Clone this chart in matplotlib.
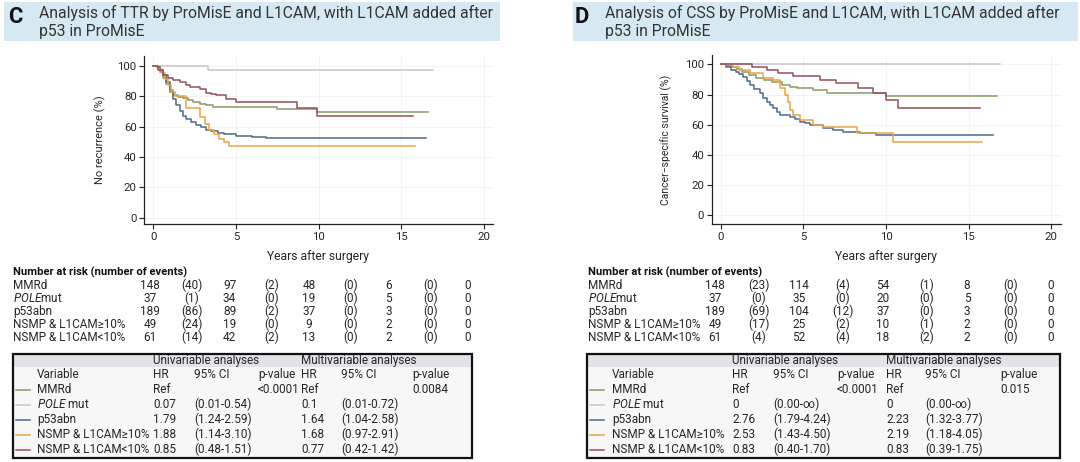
import matplotlib
matplotlib.use('Agg')
import matplotlib.pyplot as plt
from matplotlib.patches import Rectangle

plt.rcParams['font.family'] = ['Roboto', 'DejaVu Sans']
plt.rcParams['mathtext.fontset'] = 'custom'
plt.rcParams['mathtext.rm'] = 'Roboto'
plt.rcParams['mathtext.it'] = 'Roboto:italic'

# ---------------- data ----------------
groups = ['MMRd', r'$\mathit{POLE}$mut', 'p53abn', 'NSMP & L1CAM≥10%', 'NSMP & L1CAM<10%']
colors = ['#8a9865', '#c8c6cc', '#4d6a88', '#e8a448', '#93505f']

# Panel C: time to recurrence (KM steps)
ttr_mmrd_t = [0, 0.2, 0.4, 0.6, 0.8, 1.0, 1.2, 1.5, 1.8, 2.1, 2.4, 2.8, 3.2, 3.6, 7.5, 9.9]
ttr_mmrd_s = [100, 99, 96, 92, 88, 84, 81, 79.5, 78.5, 77.5, 76.3, 75, 74, 72.8, 71.5, 69.7]
ttr_pole_t = [0, 3.3]
ttr_pole_s = [100, 97.1]
ttr_p53_t = [0, 0.2, 0.4, 0.6, 0.8, 1.0, 1.2, 1.4, 1.6, 1.8, 2.0, 2.3, 2.6, 2.9, 3.2, 3.5, 3.9, 4.3, 5.0, 5.5, 6.0, 6.8]
ttr_p53_s = [100, 99, 97, 94, 89, 83, 78, 74, 70, 67, 65, 63, 61, 59.5, 58, 56.8, 55.8, 55, 54, 53.5, 53, 52.2]
ttr_hi_t = [0, 0.3, 0.5, 0.7, 0.9, 1.1, 1.3, 2.0, 2.8, 3.1, 3.4, 3.7, 4.0, 4.3, 4.6]
ttr_hi_s = [100, 98, 95, 91, 87, 83, 80, 72, 66, 62, 58, 55, 52, 50, 47]
ttr_lo_t = [0, 0.3, 0.6, 0.9, 1.2, 1.6, 2.0, 2.2, 2.8, 3.2, 3.5, 3.8, 4.4, 5.0, 8.7, 9.9]
ttr_lo_s = [100, 97, 94, 92, 90.6, 89.5, 87.5, 86.2, 85, 82, 81.5, 80.5, 78, 76.3, 72, 67]
ttr_end = [16.6, 16.9, 16.5, 15.8, 15.7]

# Panel D: cancer-specific survival (KM steps)
css_mmrd_t = [0, 0.4, 0.7, 1.0, 1.3, 1.7, 2.1, 2.6, 3.1, 3.7, 4.2, 4.6, 5.6, 6.4, 10.0]
css_mmrd_s = [100, 99.2, 98.4, 97, 95.1, 93, 90.7, 89.6, 88.5, 86.3, 85, 84.1, 83, 80.8, 79.2]
css_pole_t = [0]
css_pole_s = [100]
css_p53_t = [0, 0.3, 0.6, 0.9, 1.1, 1.35, 1.55, 1.76, 2.0, 2.36, 2.55, 2.77, 3.0, 3.17, 3.4, 3.58, 4.18, 4.5, 4.79, 5.1, 5.39, 6.2, 6.8, 7.4, 8.4, 9.4]
css_p53_s = [100, 98.4, 96.5, 95.1, 93.5, 91.8, 89, 86.3, 83.5, 80.8, 78, 75.2, 73, 70.9, 68.5, 66.4, 65.3, 63.5, 62, 61, 59.8, 57.6, 56.5, 55.4, 54.3, 53.2]
css_hi_t = [0, 0.72, 1.1, 1.76, 2.57, 3.15, 3.56, 3.86, 4.06, 4.2, 4.36, 4.8, 5.6, 6.2, 8.24, 10.4]
css_hi_s = [100, 98.4, 96.2, 94, 90.7, 89.6, 84.1, 79.7, 75, 70, 66.4, 63.1, 59.8, 58.7, 54.3, 48.7]
css_lo_t = [0, 1.86, 2.77, 3.48, 4.39, 6.0, 7.0, 8.3, 9.2, 10.0, 10.7]
css_lo_s = [100, 98.5, 96.2, 94, 92.5, 89.6, 87.4, 84.1, 80.8, 76.4, 70.9]
css_end = [16.7, 16.9, 16.5, 15.8, 15.7]

# Number at risk / events
risk_C = [[148, 97, 48, 6, 0], [37, 34, 19, 5, 0], [189, 89, 37, 3, 0], [49, 19, 9, 2, 0], [61, 42, 13, 2, 0]]
events_C = [[40, 2, 0, 0], [1, 0, 0, 0], [86, 2, 0, 0], [24, 0, 0, 0], [14, 2, 0, 0]]
risk_D = [[148, 114, 54, 8, 0], [37, 35, 20, 5, 0], [189, 104, 37, 3, 0], [49, 25, 10, 2, 0], [61, 52, 18, 2, 0]]
events_D = [[23, 4, 1, 0], [0, 0, 0, 0], [69, 12, 0, 0], [17, 2, 1, 0], [4, 4, 2, 0]]

# Hazard ratio tables
uni_hr_C = ['Ref', '0.07', '1.79', '1.88', '0.85']
uni_ci_C = ['', '(0.01-0.54)', '(1.24-2.59)', '(1.14-3.10)', '(0.48-1.51)']
uni_p_C = ['<0.0001', '', '', '', '']
mul_hr_C = ['Ref', '0.1', '1.64', '1.68', '0.77']
mul_ci_C = ['', '(0.01-0.72)', '(1.04-2.58)', '(0.97-2.91)', '(0.42-1.42)']
mul_p_C = ['0.0084', '', '', '', '']
uni_hr_D = ['Ref', '0', '2.76', '2.53', '0.83']
uni_ci_D = ['', '(0.00-∞)', '(1.79-4.24)', '(1.43-4.50)', '(0.40-1.70)']
uni_p_D = ['<0.0001', '', '', '', '']
mul_hr_D = ['Ref', '0', '2.23', '2.19', '0.83']
mul_ci_D = ['', '(0.00-∞)', '(1.32-3.77)', '(1.18-4.05)', '(0.39-1.75)']
mul_p_D = ['0.015', '', '', '', '']

title_C1 = 'Analysis of TTR by ProMisE and L1CAM, with L1CAM added after'
title_D1 = 'Analysis of CSS by ProMisE and L1CAM, with L1CAM added after'
title_2 = 'p53 in ProMisE'

# ---------------- figure ----------------
W, H = 1080, 462
fig = plt.figure(figsize=(W / 100, H / 100), dpi=100)
ov = fig.add_axes([0, 0, 1, 1])
ov.set_xlim(0, W)
ov.set_ylim(H, 0)
ov.axis('off')
fig.canvas.draw()
R = fig.canvas.get_renderer()


def fit_size(s, target_px, **kw):
    t = ov.text(0, 0, s, fontsize=10, **kw)
    w = t.get_window_extent(renderer=R).width
    t.remove()
    return 10 * target_px / w


TXT = '#262626'
FS_TAB = fit_size('NSMP & L1CAM≥10%', 112)
FS_RISK = fit_size('NSMP & L1CAM≥10%', 112)
FS_RHDR = fit_size('Number at risk (number of events)', 174, fontweight='bold')
FS_TITLE = fit_size(title_C1, 454)
FS_XLAB = fit_size('Years after surgery', 102)
FS_YLAB_C = fit_size('No recurrence (%)', 89)
FS_YLAB_D = fit_size('Cancer−specific survival (%)', 130)
FS_TICK = 8.2
FS_LETTER = fit_size('C', 14.5, fontweight='bold')


def km_axes(l, r, t, b, xlim, ylim, ylab, ylab_x, xlab_x, curves, ylab_fs):
    ax = fig.add_axes([l / W, 1 - b / H, (r - l) / W, (b - t) / H])
    ax.patch.set_alpha(0)
    for (tt, ss, end), c in zip(curves, colors):
        ax.step(list(tt) + [end], list(ss) + [ss[-1]], where='post', color=c, lw=1.1)
    ax.set_xlim(*xlim)
    ax.set_ylim(*ylim)
    ax.set_xticks([0, 5, 10, 15, 20])
    ax.set_yticks([0, 20, 40, 60, 80, 100])
    for s in ['top', 'right']:
        ax.spines[s].set_visible(False)
    for s in ['left', 'bottom']:
        ax.spines[s].set_color('#222222')
        ax.spines[s].set_linewidth(0.9)
    ax.tick_params(length=3.5, width=0.8, pad=2, labelsize=FS_TICK, colors='#222222', labelcolor=TXT)
    ax.grid(True, color='#f1f1f1', lw=0.6)
    ax.set_axisbelow(True)
    ov.text(ylab_x, 140, ylab, rotation=90, ha='center', va='center', fontsize=ylab_fs, color=TXT)
    ov.text(xlab_x, 256.5, 'Years after surgery', ha='center', va='center', fontsize=FS_XLAB, color=TXT)
    return ax


def title_band(x0, x1, letter, lx, tx, line1):
    ov.add_patch(Rectangle((x0, 2), x1 - x0, 38.5, facecolor='#d6e9f2', edgecolor='none'))
    ov.text(lx, 17, letter, fontsize=FS_LETTER, fontweight='bold', ha='left', va='center', color='#111111')
    ov.text(tx, 12.7, line1, fontsize=FS_TITLE, ha='left', va='center', color='#333333')
    ov.text(tx, 31.7, title_2, fontsize=FS_TITLE, ha='left', va='center', color='#333333')


def risk_table(lx, x0, dx, risk, events):
    ov.text(lx, 272.5, 'Number at risk (number of events)', fontsize=FS_RHDR, fontweight='bold',
            ha='left', va='center', color='#111111')
    for i, g in enumerate(groups):
        y = 285.5 + 13 * i
        ov.text(lx, y, g, fontsize=FS_RISK, ha='left', va='center', color=TXT)
        for k, v in enumerate(risk[i]):
            ov.text(x0 + dx * k, y, str(v), fontsize=FS_RISK, ha='center', va='center', color=TXT)
        for k, v in enumerate(events[i]):
            ov.text(x0 + dx * (k + 0.5) + 2, y, '(%d)' % v, fontsize=FS_RISK, ha='center', va='center', color=TXT)


def hr_table(bx0, bx1, cols, uh, uc, up, mh, mc, mp):
    top, bot = 354, 458
    ov.add_patch(Rectangle((bx0, top), bx1 - bx0, bot - top, facecolor='#f7f7f7', edgecolor='none'))
    ov.add_patch(Rectangle((bx0, top), bx1 - bx0, 13, facecolor='#e2e2e9', edgecolor='none'))
    ov.add_patch(Rectangle((bx0, top), bx1 - bx0, bot - top, facecolor='none', edgecolor='#111111', lw=1.6))
    cv, c1, c2, c3, c4, c5, c6 = cols
    ov.text(c1, 360.5, 'Univariable analyses', fontsize=FS_TAB, ha='left', va='center', color=TXT)
    ov.text(c4, 360.5, 'Multivariable analyses', fontsize=FS_TAB, ha='left', va='center', color=TXT)
    hdr = ['Variable', 'HR', '95% CI', 'p-value', 'HR', '95% CI', 'p-value']
    for x, h in zip(cols, hdr):
        ov.text(x, 374.5, h, fontsize=FS_TAB, ha='left', va='center', color=TXT)
    for i, g in enumerate(groups):
        y = 389.5 + 15 * i
        ov.plot([bx0 + 2.5, bx0 + 17], [y, y], color=colors[i], lw=1.1)
        ov.text(cv, y, g.replace('$mut', '$ mut'), fontsize=FS_TAB, ha='left', va='center', color=TXT)
        for x, v in zip(cols[1:], [uh[i], uc[i], up[i], mh[i], mc[i], mp[i]]):
            if v:
                ov.text(x, y, v, fontsize=FS_TAB, ha='left', va='center', color=TXT)


# Panel C
title_band(4, 500, 'C', 8, 39, title_C1)
km_axes(144.3, 493, 56, 224.3, (-0.54, 20.54), (-4.3, 106.4), 'No recurrence (%)', 100, 318,
        [(ttr_mmrd_t, ttr_mmrd_s, ttr_end[0]), (ttr_pole_t, ttr_pole_s, ttr_end[1]),
         (ttr_p53_t, ttr_p53_s, ttr_end[2]), (ttr_hi_t, ttr_hi_s, ttr_end[3]),
         (ttr_lo_t, ttr_lo_s, ttr_end[4])], FS_YLAB_C)
risk_table(13, 150, 79.5, risk_C, events_C)
hr_table(13, 472, [37, 153, 194, 258, 301, 341, 412],
         uni_hr_C, uni_ci_C, uni_p_C, mul_hr_C, mul_ci_C, mul_p_C)

# Panel D
title_band(573, 1078, 'D', 575, 605, title_D1)
km_axes(711.7, 1061, 55, 224.3, (-0.56, 20.6), (-5.96, 106.2), 'Cancer−specific survival (%)', 666, 886,
        [(css_mmrd_t, css_mmrd_s, css_end[0]), (css_pole_t, css_pole_s, css_end[1]),
         (css_p53_t, css_p53_s, css_end[2]), (css_hi_t, css_hi_s, css_end[3]),
         (css_lo_t, css_lo_s, css_end[4])], FS_YLAB_D)
risk_table(588, 715, 84, risk_D, events_D)
hr_table(587, 1060, [612, 732, 773, 837, 886, 925, 1000],
         uni_hr_D, uni_ci_D, uni_p_D, mul_hr_D, mul_ci_D, mul_p_D)

fig.savefig('out.png', dpi=100)
